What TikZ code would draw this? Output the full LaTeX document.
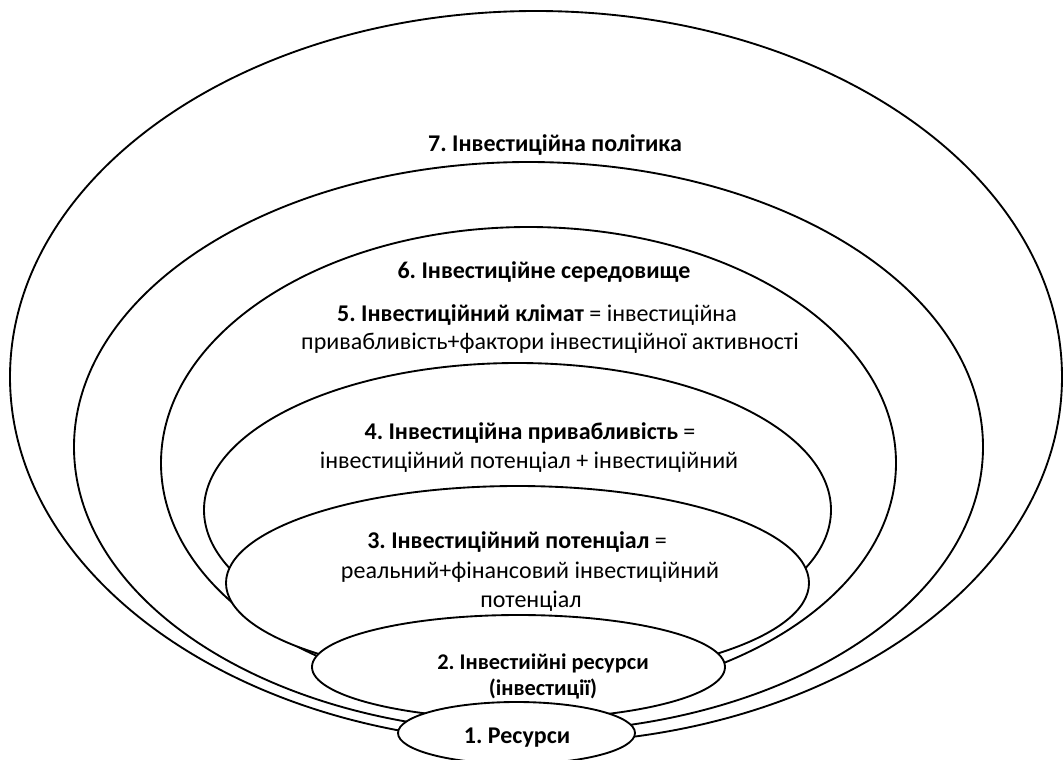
\documentclass[tikz,border=0pt]{standalone}
\usepackage{fontspec}
\setmainfont{Carlito}
\frenchspacing
\begin{document}
\begin{tikzpicture}[x=0.75pt,y=-0.75pt,
  ring/.style={draw=black, line width=1.4pt, fill=white},
  txt/.style={inner sep=0pt, anchor=center, font=\fontsize{18}{21}\selectfont},
  smalltxt/.style={inner sep=0pt, anchor=center, font=\fontsize{16.8}{20}\selectfont}]
\useasboundingbox (0,0) rectangle (1064,760);
\fill[white] (0,0) rectangle (1064,760);

% nested levels, outermost first so inner ones sit on top
\coordinate (c7) at (536,377);
\coordinate (c6) at (528.5,447);
\coordinate (c5) at (528.5,463);
\coordinate (c4) at (517.5,510);
\coordinate (c3) at (517.5,583);
\coordinate (c2) at (518.5,667);
\coordinate (c1) at (516.5,733);

\draw[ring] (c7) ellipse [x radius=526, y radius=366];
\draw[ring] (c6) ellipse [x radius=454.5, y radius=285];
\draw[ring] (c5) ellipse [x radius=367.5, y radius=236];
\draw[ring] (c4) ellipse [x radius=313.5, y radius=147];
\draw[ring] (c3) ellipse [x radius=291.5, y radius=97];
\draw[ring] (c2) ellipse [x radius=206.5, y radius=52];
\draw[ring] (c1) ellipse [x radius=118.5, y radius=31];

% labels
\node[txt] (t7) at (555,145) {\textbf{7. Інвестиційна політика}};
\node[txt] (t6) at (544,272) {\textbf{6. Інвестиційне середовище}};
\node[txt] (t5a) at (537,315) {\textbf{5. Інвестиційний клімат} = інвестиційна};
\node[txt] (t5b) at (550,343) {привабливість+фактори інвестиційної активності};
\node[txt] (t4a) at (530,433) {\textbf{4. Інвестиційна привабливість} =};
\node[txt] (t4b) at (529,462) {інвестиційний потенціал + інвестиційний};
\node[txt] (t3a) at (517,542) {\textbf{3. Інвестиційний потенціал} =};
\node[txt] (t3b) at (530,572) {реальний+фінансовий інвестиційний};
\node[txt] (t3c) at (531,601) {потенціал};
\node[smalltxt] (t2a) at (543,663) {\textbf{2.\ Інвестиійні ресурси}};
\node[smalltxt] (t2b) at (543,689) {\textbf{(інвестиції)}};
\node[txt] (t1) at (517,738) {\textbf{1. Ресурси}};
\end{tikzpicture}
\end{document}
